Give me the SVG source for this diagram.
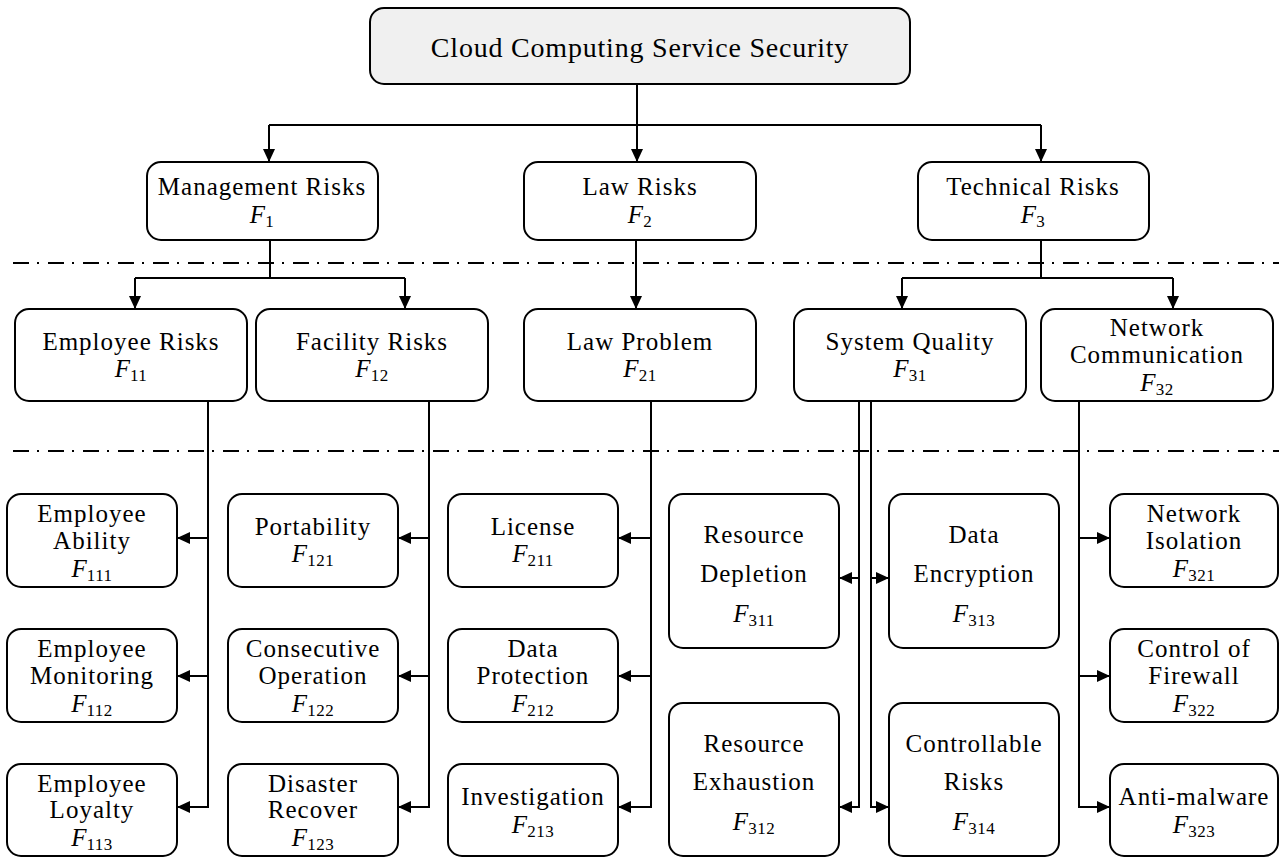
<svg xmlns="http://www.w3.org/2000/svg" width="1279" height="857" viewBox="0 0 1279 857">
<style>
.box{fill:#fff;stroke:#000;stroke-width:2}
.top{fill:#f0f0f0;stroke:#000;stroke-width:2}
.t{font-family:"Liberation Serif","Times New Roman",serif;font-size:25px;letter-spacing:1px;text-anchor:middle;fill:#000}
.title{font-size:28px;letter-spacing:0.8px}
.i{font-style:italic;letter-spacing:0}
.s{font-size:17px;letter-spacing:0.5px}
.c{fill:none;stroke:#000;stroke-width:2}
.arr{marker-end:url(#ah)}
.dd{fill:none;stroke:#000;stroke-width:2;stroke-dasharray:16 8 2 9}
</style>
<defs>
<marker id="ah" markerUnits="userSpaceOnUse" markerWidth="14" markerHeight="12" refX="13" refY="6" orient="auto">
<path d="M0,0 L13,6 L0,12 z" fill="#000"/>
</marker>
</defs>

<g id="separators">
<line class="dd" x1="13" y1="263" x2="1279" y2="263"/>
<line class="dd" x1="13" y1="451" x2="1279" y2="451"/>
</g>

<g id="connectors">
<path class="c arr" d="M637,84 V162"/>
<path class="c" d="M269,125 H1041"/>
<path class="c arr" d="M269,125 V162"/>
<path class="c arr" d="M1041,125 V162"/>

<path class="c" d="M270,240 V278"/>
<path class="c" d="M135,278 H405"/>
<path class="c arr" d="M135,278 V309"/>
<path class="c arr" d="M405,278 V309"/>

<path class="c arr" d="M636,240 V309"/>

<path class="c" d="M1041,240 V278"/>
<path class="c" d="M902,278 H1173"/>
<path class="c arr" d="M902,278 V309"/>
<path class="c arr" d="M1173,278 V309"/>

<path class="c arr" d="M208,401 V807 H177"/>
<path class="c arr" d="M208,538 H177"/>
<path class="c arr" d="M208,676 H177"/>

<path class="c arr" d="M429,401 V807 H398"/>
<path class="c arr" d="M429,538 H398"/>
<path class="c arr" d="M429,676 H398"/>

<path class="c arr" d="M651,401 V807 H618"/>
<path class="c arr" d="M651,538 H618"/>
<path class="c arr" d="M651,676 H618"/>

<path class="c arr" d="M859,401 V807 H839"/>
<path class="c arr" d="M859,578 H839"/>

<path class="c arr" d="M871,401 V807 H889"/>
<path class="c arr" d="M871,578 H889"/>

<path class="c arr" d="M1079,401 V807 H1110"/>
<path class="c arr" d="M1079,538 H1110"/>
<path class="c arr" d="M1079,676 H1110"/>
</g>

<g id="root">
<rect class="top" x="370" y="8" width="540" height="76" rx="14"/>
<text class="t title" x="640" y="57">Cloud Computing Service Security</text>
</g>

<g id="F1">
<rect class="box" x="147" y="162" width="231" height="78" rx="14"/>
<text class="t" x="262" y="195">Management Risks</text>
<text class="t" x="262" y="223"><tspan class="i">F</tspan><tspan class="s" dy="4">1</tspan></text>
</g>
<g id="F2">
<rect class="box" x="524" y="162" width="232" height="78" rx="14"/>
<text class="t" x="640" y="195">Law Risks</text>
<text class="t" x="640" y="223"><tspan class="i">F</tspan><tspan class="s" dy="4">2</tspan></text>
</g>
<g id="F3">
<rect class="box" x="918" y="162" width="231" height="78" rx="14"/>
<text class="t" x="1033" y="195">Technical Risks</text>
<text class="t" x="1033" y="223"><tspan class="i">F</tspan><tspan class="s" dy="4">3</tspan></text>
</g>

<g id="F11">
<rect class="box" x="15" y="309" width="232" height="92" rx="14"/>
<text class="t" x="131" y="350">Employee Risks</text>
<text class="t" x="131" y="377"><tspan class="i">F</tspan><tspan class="s" dy="4">11</tspan></text>
</g>
<g id="F12">
<rect class="box" x="256" y="309" width="232" height="92" rx="14"/>
<text class="t" x="372" y="350">Facility Risks</text>
<text class="t" x="372" y="377"><tspan class="i">F</tspan><tspan class="s" dy="4">12</tspan></text>
</g>
<g id="F21">
<rect class="box" x="524" y="309" width="232" height="92" rx="14"/>
<text class="t" x="640" y="350">Law Problem</text>
<text class="t" x="640" y="377"><tspan class="i">F</tspan><tspan class="s" dy="4">21</tspan></text>
</g>
<g id="F31">
<rect class="box" x="794" y="309" width="232" height="92" rx="14"/>
<text class="t" x="910" y="350">System Quality</text>
<text class="t" x="910" y="377"><tspan class="i">F</tspan><tspan class="s" dy="4">31</tspan></text>
</g>
<g id="F32">
<rect class="box" x="1041" y="309" width="232" height="92" rx="14"/>
<text class="t" x="1157" y="336">Network</text>
<text class="t" x="1157" y="363">Communication</text>
<text class="t" x="1157" y="391"><tspan class="i">F</tspan><tspan class="s" dy="4">32</tspan></text>
</g>

<g id="F111">
<rect class="box" x="7" y="494" width="170" height="93" rx="14"/>
<text class="t" x="92" y="522">Employee</text>
<text class="t" x="92" y="549">Ability</text>
<text class="t" x="92" y="577"><tspan class="i">F</tspan><tspan class="s" dy="4">111</tspan></text>
</g>
<g id="F112">
<rect class="box" x="7" y="629" width="170" height="93" rx="14"/>
<text class="t" x="92" y="657">Employee</text>
<text class="t" x="92" y="684">Monitoring</text>
<text class="t" x="92" y="712"><tspan class="i">F</tspan><tspan class="s" dy="4">112</tspan></text>
</g>
<g id="F113">
<rect class="box" x="7" y="764" width="170" height="92" rx="14"/>
<text class="t" x="92" y="792">Employee</text>
<text class="t" x="92" y="818">Loyalty</text>
<text class="t" x="92" y="846"><tspan class="i">F</tspan><tspan class="s" dy="4">113</tspan></text>
</g>

<g id="F121">
<rect class="box" x="228" y="494" width="170" height="93" rx="14"/>
<text class="t" x="313" y="535">Portability</text>
<text class="t" x="313" y="562"><tspan class="i">F</tspan><tspan class="s" dy="4">121</tspan></text>
</g>
<g id="F122">
<rect class="box" x="228" y="629" width="170" height="93" rx="14"/>
<text class="t" x="313" y="657">Consecutive</text>
<text class="t" x="313" y="684">Operation</text>
<text class="t" x="313" y="712"><tspan class="i">F</tspan><tspan class="s" dy="4">122</tspan></text>
</g>
<g id="F123">
<rect class="box" x="228" y="764" width="170" height="92" rx="14"/>
<text class="t" x="313" y="792">Disaster</text>
<text class="t" x="313" y="818">Recover</text>
<text class="t" x="313" y="846"><tspan class="i">F</tspan><tspan class="s" dy="4">123</tspan></text>
</g>

<g id="F211">
<rect class="box" x="448" y="494" width="170" height="93" rx="14"/>
<text class="t" x="533" y="535">License</text>
<text class="t" x="533" y="562"><tspan class="i">F</tspan><tspan class="s" dy="4">211</tspan></text>
</g>
<g id="F212">
<rect class="box" x="448" y="629" width="170" height="93" rx="14"/>
<text class="t" x="533" y="657">Data</text>
<text class="t" x="533" y="684">Protection</text>
<text class="t" x="533" y="712"><tspan class="i">F</tspan><tspan class="s" dy="4">212</tspan></text>
</g>
<g id="F213">
<rect class="box" x="448" y="764" width="170" height="92" rx="14"/>
<text class="t" x="533" y="805">Investigation</text>
<text class="t" x="533" y="833"><tspan class="i">F</tspan><tspan class="s" dy="4">213</tspan></text>
</g>

<g id="F311">
<rect class="box" x="669" y="494" width="170" height="154" rx="14"/>
<text class="t" x="754" y="543">Resource</text>
<text class="t" x="754" y="582">Depletion</text>
<text class="t" x="754" y="622"><tspan class="i">F</tspan><tspan class="s" dy="4">311</tspan></text>
</g>
<g id="F312">
<rect class="box" x="669" y="703" width="170" height="153" rx="14"/>
<text class="t" x="754" y="752">Resource</text>
<text class="t" x="754" y="790">Exhaustion</text>
<text class="t" x="754" y="830"><tspan class="i">F</tspan><tspan class="s" dy="4">312</tspan></text>
</g>

<g id="F313">
<rect class="box" x="889" y="494" width="170" height="154" rx="14"/>
<text class="t" x="974" y="543">Data</text>
<text class="t" x="974" y="582">Encryption</text>
<text class="t" x="974" y="622"><tspan class="i">F</tspan><tspan class="s" dy="4">313</tspan></text>
</g>
<g id="F314">
<rect class="box" x="889" y="703" width="170" height="153" rx="14"/>
<text class="t" x="974" y="752">Controllable</text>
<text class="t" x="974" y="790">Risks</text>
<text class="t" x="974" y="830"><tspan class="i">F</tspan><tspan class="s" dy="4">314</tspan></text>
</g>

<g id="F321">
<rect class="box" x="1110" y="494" width="168" height="93" rx="14"/>
<text class="t" x="1194" y="522">Network</text>
<text class="t" x="1194" y="549">Isolation</text>
<text class="t" x="1194" y="577"><tspan class="i">F</tspan><tspan class="s" dy="4">321</tspan></text>
</g>
<g id="F322">
<rect class="box" x="1110" y="629" width="168" height="93" rx="14"/>
<text class="t" x="1194" y="657">Control of</text>
<text class="t" x="1194" y="684">Firewall</text>
<text class="t" x="1194" y="712"><tspan class="i">F</tspan><tspan class="s" dy="4">322</tspan></text>
</g>
<g id="F323">
<rect class="box" x="1110" y="764" width="168" height="92" rx="14"/>
<text class="t" x="1194" y="805">Anti-malware</text>
<text class="t" x="1194" y="833"><tspan class="i">F</tspan><tspan class="s" dy="4">323</tspan></text>
</g>
</svg>
